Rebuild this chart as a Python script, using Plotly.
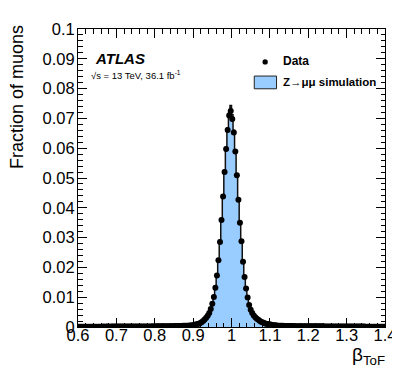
import plotly.graph_objects as go

# ---------------- data ----------------
bin_start = 0.60
bin_width = 0.004

# shared tails (data and simulation agree there)
left_tail = [
    0.00010, 0.00010, 0.00011, 0.00010, 0.00011, 0.00011, 0.00010, 0.00011, 0.00012, 0.00011,
    0.00011, 0.00012, 0.00012, 0.00011, 0.00012, 0.00012, 0.00013, 0.00012, 0.00013, 0.00013,
    0.00012, 0.00013, 0.00014, 0.00013, 0.00014,
    0.00014, 0.00015, 0.00014, 0.00015, 0.00015, 0.00016, 0.00015, 0.00016, 0.00016, 0.00017,
    0.00016, 0.00017, 0.00017, 0.00018, 0.00017, 0.00018, 0.00018, 0.00019, 0.00018, 0.00019,
    0.00019, 0.00020, 0.00020, 0.00021, 0.00020,
    0.00021, 0.00022, 0.00022, 0.00023, 0.00023, 0.00024, 0.00025, 0.00025, 0.00026, 0.00027,
    0.00028, 0.00029, 0.00030,
    0.00031, 0.00032, 0.00033, 0.00035, 0.00036, 0.00038, 0.00040, 0.00042, 0.00044, 0.00047,
    0.0005, 0.0006, 0.0007, 0.0008, 0.0009, 0.0011, 0.0013,
]

data_core = [
    0.0016, 0.0020, 0.0025, 0.0031, 0.0038, 0.0047, 0.0060, 0.0078, 0.0101, 0.0132,
    0.0173, 0.0224, 0.0285, 0.0359, 0.0438, 0.0520, 0.0597, 0.0661, 0.0710, 0.0725,
    0.0698, 0.0653, 0.0589, 0.0509, 0.0427, 0.0350, 0.0288, 0.0219, 0.0168, 0.0129,
    0.0099, 0.0074, 0.0058, 0.0047, 0.0039, 0.0033, 0.0028, 0.0024, 0.0020, 0.0017,
    0.0015,
]

mc_core = [
    0.0016, 0.0019, 0.0024, 0.0030, 0.0038, 0.0048, 0.0061, 0.0080, 0.0104, 0.0136,
    0.0178, 0.0229, 0.0291, 0.0364, 0.0444, 0.0526, 0.0603, 0.0668, 0.0718, 0.0743,
    0.0712, 0.0660, 0.0594, 0.0513, 0.0430, 0.0352, 0.0285, 0.0222, 0.0170, 0.0130,
    0.0100, 0.0076, 0.0059, 0.0047, 0.0039, 0.0033, 0.0028, 0.0024, 0.0020, 0.0017,
    0.0015,
]

right_tail = [
    0.0013, 0.0011, 0.0010, 0.0009, 0.0008, 0.0007, 0.0006, 0.00055, 0.0005, 0.00045,
    0.00042, 0.00040, 0.00038, 0.00036, 0.00035, 0.00034, 0.00033, 0.00032, 0.00031,
    0.00030, 0.00029, 0.00029, 0.00028, 0.00027, 0.00027, 0.00026, 0.00026, 0.00025, 0.00025,
    0.00024, 0.00024, 0.00023, 0.00023, 0.00023, 0.00022, 0.00022, 0.00021, 0.00021, 0.00021,
    0.00020, 0.00020, 0.00020,
    0.00019, 0.00019, 0.00019, 0.00018, 0.00018, 0.00018, 0.00017, 0.00017, 0.00017, 0.00016,
    0.00016, 0.00016, 0.00015, 0.00015, 0.00015, 0.00015, 0.00014, 0.00014, 0.00014, 0.00014,
    0.00013, 0.00013, 0.00013, 0.00013, 0.00012, 0.00012, 0.00012, 0.00012, 0.00012, 0.00011,
    0.00011, 0.00011, 0.00011, 0.00011, 0.00010, 0.00010, 0.00010,
]

x_ticks = [0.6, 0.7, 0.8, 0.9, 1.0, 1.1, 1.2, 1.3, 1.4]
x_ticktext = ["0.6", "0.7", "0.8", "0.9", "1", "1.1", "1.2", "1.3", "1.4"]
y_ticks = [0, 0.01, 0.02, 0.03, 0.04, 0.05, 0.06, 0.07, 0.08, 0.09, 0.1]
y_ticktext = ["0", "0.01", "0.02", "0.03", "0.04", "0.05", "0.06", "0.07", "0.08", "0.09", "0.1"]

data_vals = left_tail + data_core + right_tail
mc_vals = left_tail + mc_core + right_tail
centers = [round(bin_start + bin_width * (i + 0.5), 4) for i in range(len(data_vals))]

# ---------------- layout geometry ----------------
W, H = 400, 376
ML, MR, MT, MB = 70, 13, 15, 57
PW, PH = W - ML - MR, H - MT - MB


def px(x):
    return (x - ML) / PW


def py(y):
    return (H - MB - y) / PH


FONT = "Liberation Sans, Arial, Helvetica, sans-serif"
BLUE = "#99ccff"

fig = go.Figure()
fig.add_trace(go.Scatter(
    x=centers, y=mc_vals, mode="lines",
    line=dict(shape="hvh", color="#111111", width=1.5),
    fill="tozeroy", fillcolor=BLUE, hoverinfo="skip",
))
fig.add_trace(go.Scatter(
    x=centers, y=data_vals, mode="markers",
    marker=dict(color="black", size=6, line=dict(width=0)),
))

tick_common = dict(
    ticks="inside", ticklen=9, tickwidth=1, tickcolor="black",
    showgrid=False, zeroline=False,
)
label_font = dict(family=FONT, size=16.5, color="black")

x_minor = dict(ticks="inside", ticklen=4.5, dtick=0.02, tick0=0.6, tickcolor="black", showgrid=False)
y_minor = dict(ticks="inside", ticklen=4.5, dtick=0.002, tick0=0, tickcolor="black", showgrid=False)

fig.update_layout(
    width=W, height=H,
    margin=dict(l=ML, r=MR, t=MT, b=MB),
    plot_bgcolor="white", paper_bgcolor="white",
    showlegend=False,
    xaxis=dict(
        range=[0.6, 1.4], tickmode="array", tickvals=x_ticks, ticktext=x_ticktext,
        showline=True, linecolor="black", linewidth=1, mirror=True,
        minor=x_minor, tickfont=label_font, ticklabelstandoff=-7, **tick_common,
    ),
    yaxis=dict(
        range=[0, 0.1], tickmode="array", tickvals=y_ticks, ticktext=y_ticktext,
        showline=True, linecolor="black", linewidth=1, mirror=True,
        minor=y_minor, tickfont=label_font, ticklabelstandoff=-1, **tick_common,
    ),
    xaxis2=dict(
        range=[0.6, 1.4], overlaying="x", side="top", anchor="y", tickmode="array",
        tickvals=x_ticks, showticklabels=False, showline=False, minor=x_minor, **tick_common,
    ),
    yaxis2=dict(
        range=[0, 0.1], overlaying="y", side="right", anchor="x", tickmode="array",
        tickvals=y_ticks, showticklabels=False, showline=False, minor=y_minor, **tick_common,
    ),
)

# invisible helper trace so the mirrored tick axes are drawn
fig.add_trace(go.Scatter(x=[0.6], y=[0], xaxis="x2", yaxis="y2", mode="markers",
                         marker=dict(opacity=0), hoverinfo="skip"))

annotations = [
    dict(text="Fraction of muons", textangle=-90, x=px(7), y=py(9),
         xanchor="center", yanchor="top", font=dict(family=FONT, size=18, color="black")),
    dict(text="β<sub>ToF</sub>", x=px(389), y=py(334), xanchor="right", yanchor="top",
         font=dict(family=FONT, size=19, color="black")),
    dict(text="<b><i>ATLAS</i></b>", x=px(85), y=py(45), xanchor="left", yanchor="middle",
         font=dict(family=FONT, size=15, color="black")),
    dict(text="√s = 13 TeV, 36.1 fb<sup>-1</sup>", x=px(81), y=py(62), xanchor="left", yanchor="middle",
         font=dict(family=FONT, size=9.5, color="black")),
    dict(text="<b>Data</b>", x=px(280), y=py(48), xanchor="left", yanchor="middle",
         font=dict(family=FONT, size=12, color="black")),
    dict(text="<b>Z→μμ simulation</b>", x=px(280), y=py(69), xanchor="left", yanchor="middle",
         font=dict(family=FONT, size=11.5, color="black")),
]
for a in annotations:
    a.update(xref="paper", yref="paper", showarrow=False)
fig.update_layout(annotations=annotations)

fig.add_shape(type="rect", xref="paper", yref="paper",
              x0=px(252), x1=px(275), y0=py(76), y1=py(63),
              fillcolor=BLUE, line=dict(color="#222222", width=1))
fig.add_shape(type="circle", xref="paper", yref="paper",
              x0=px(260.5), x1=px(266), y0=py(51.3), y1=py(45.8),
              fillcolor="black", line=dict(color="black", width=0))

fig.write_html("out.html")
